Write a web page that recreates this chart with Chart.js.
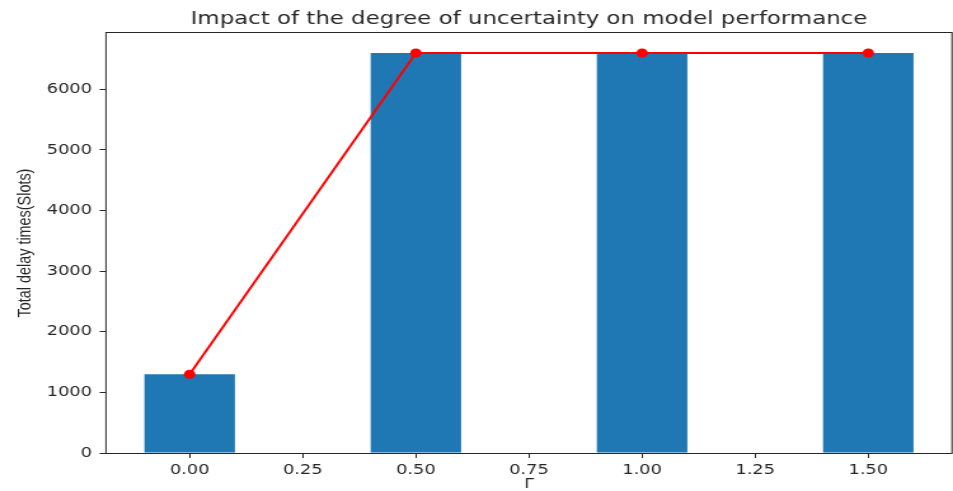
<!DOCTYPE html>
<html><head><meta charset="utf-8">
<script src="https://cdn.jsdelivr.net/npm/chart.js@4"></script>
<style>
html,body{margin:0;padding:0;background:#fff;overflow:hidden}
canvas{display:block;width:953px !important;height:491px !important}
</style>
</head><body>
<!-- the reference figure is horizontally stretched; the chart is drawn at 750px and shown at 953px -->
<canvas id="c" width="750" height="491" style="width:953px;height:491px"></canvas>
<script>
const gammaValues = [0, 0.5, 1.0, 1.5];
const delayValues = [1300, 6600, 6600, 6600];
const lineValues = [1300, 6600, 6600, 6600];
const xTicks = [0, 0.25, 0.5, 0.75, 1.0, 1.25, 1.5];
const yTicks = [0, 1000, 2000, 3000, 4000, 5000, 6000];
const xRange = [-0.185, 1.685];
const yRange = [0, 6930];
const titleText = 'Impact of the degree of uncertainty on model performance';
const xTitleText = 'Γ';
const yTitleText = 'Total delay times(Slots)';

const INK = '#262626';

const framePlugin = {
  id: 'frame',
  afterDraw(chart) {
    const {left, right, top, bottom} = chart.chartArea;
    const ctx = chart.ctx;
    ctx.save();
    ctx.strokeStyle = INK;
    ctx.lineWidth = 1;
    ctx.strokeRect(left, Math.round(top) - 0.5, right - left, Math.round(bottom) - Math.round(top) + 1);
    ctx.restore();
  }
};

new Chart(document.getElementById('c'), {
  type: 'bar',
  data: {
    datasets: [
      {
        type: 'line',
        data: gammaValues.map((g, i) => ({x: g, y: lineValues[i]})),
        borderColor: '#ff0000',
        backgroundColor: '#ff0000',
        borderWidth: 2,
        pointRadius: 4.5,
        pointBorderWidth: 0,
        pointBackgroundColor: '#ff0000',
        tension: 0,
        order: 0
      },
      {
        type: 'bar',
        data: gammaValues.map((g, i) => ({x: g, y: delayValues[i]})),
        backgroundColor: '#1f77b4',
        borderWidth: 0,
        barPercentage: 0.8,
        categoryPercentage: 1.0,
        order: 1
      }
    ]
  },
  options: {
    responsive: false,
    devicePixelRatio: 1,
    animation: false,
    events: [],
    layout: {autoPadding: false, padding: {left: 0, right: 0.8, top: 0, bottom: 0}},
    plugins: {
      legend: {display: false},
      tooltip: {enabled: false},
      title: {
        display: true,
        text: titleText,
        fullSize: false,
        color: INK,
        font: {family: '"DejaVu Sans"', size: 18, weight: 'normal', lineHeight: 1.2},
        padding: {top: 8.7, bottom: 2.7}
      }
    },
    scales: {
      x: {
        type: 'linear',
        min: xRange[0],
        max: xRange[1],
        offset: false,
        afterBuildTicks: s => { s.ticks = xTicks.map(v => ({value: v})); },
        afterFit: s => { s.height = 38; s.paddingLeft = 0; s.paddingRight = 0; },
        grid: {display: true, drawOnChartArea: false, drawTicks: true, tickLength: 5, color: INK, offset: false},
        border: {display: false},
        ticks: {
          color: INK, padding: 4, maxRotation: 0, autoSkip: false,
          font: {family: '"DejaVu Sans"', size: 14},
          callback: v => v.toFixed(2)
        },
        title: {display: true, text: xTitleText, color: INK, font: {family: '"DejaVu Sans"', size: 14, lineHeight: 1}, padding: {top: 0, bottom: 0}}
      },
      y: {
        type: 'linear',
        min: yRange[0],
        max: yRange[1],
        afterBuildTicks: s => { s.ticks = yTicks.map(v => ({value: v})); },
        afterFit: s => { s.width = 83.4; s.paddingTop = 0; s.paddingBottom = 0; },
        grid: {display: true, drawOnChartArea: false, drawTicks: true, tickLength: 5, color: INK},
        border: {display: false},
        ticks: {
          color: INK, padding: 6,
          font: {family: '"DejaVu Sans"', size: 14},
          callback: v => String(v)
        },
        title: {display: true, text: yTitleText, color: INK, font: {family: '"Liberation Sans"', size: 14.4, lineHeight: 1.2}, padding: {top: 11, bottom: 0}}
      }
    }
  },
  plugins: [framePlugin]
});
</script>
</body></html>
